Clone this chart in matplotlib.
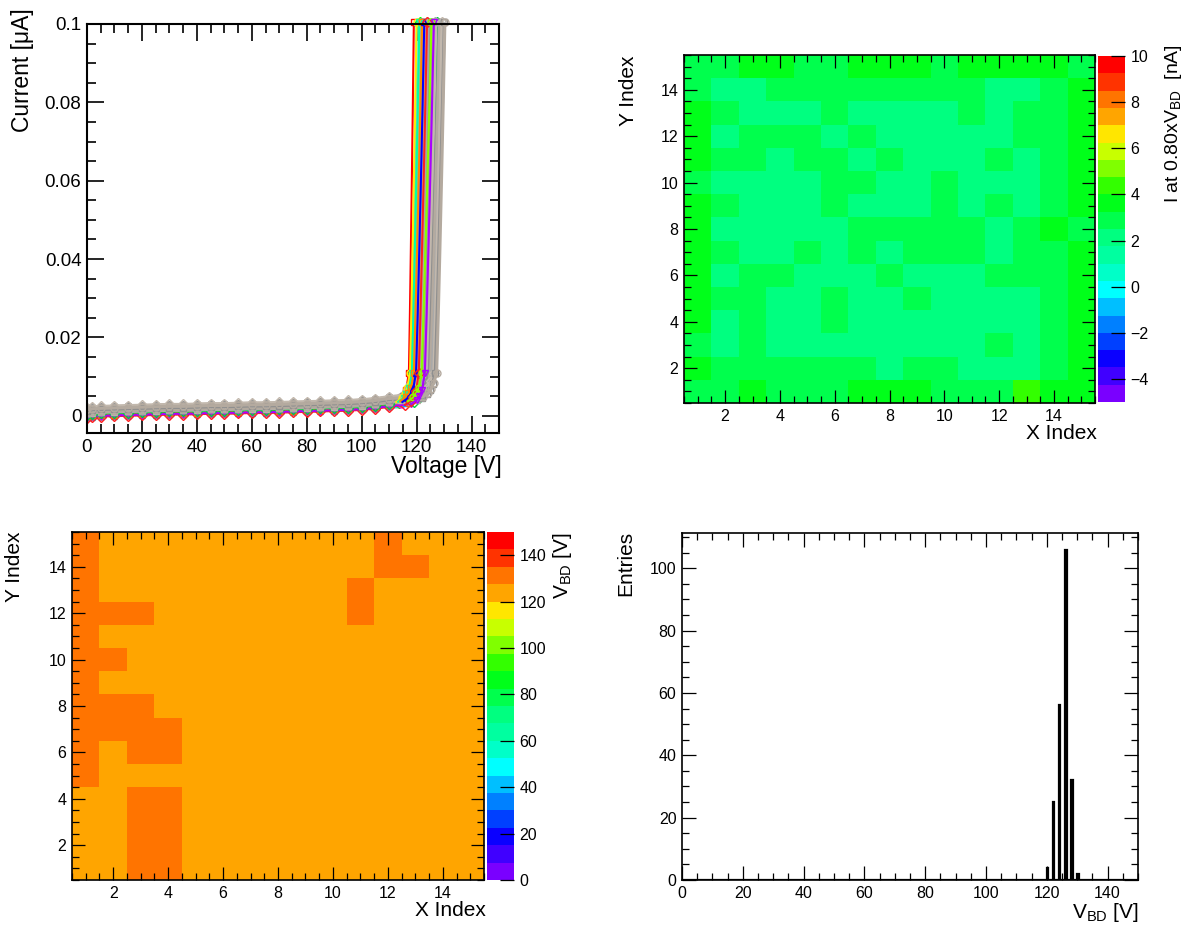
import numpy as np
import matplotlib
matplotlib.use("Agg")
import matplotlib.pyplot as plt
from matplotlib.colors import ListedColormap, BoundaryNorm
from matplotlib.ticker import MultipleLocator, FormatStrFormatter

plt.rcParams['font.family'] = ['Liberation Sans', 'DejaVu Sans']
plt.rcParams['mathtext.fontset'] = 'custom'
plt.rcParams['mathtext.rm'] = 'Liberation Sans'
plt.rcParams['mathtext.it'] = 'Liberation Sans:italic'

# ---------------- data ----------------
# IV sweep: common flat part (absolute volts) and breakdown rise (volts relative to knee)
flat_v = [0, 2, 5, 10, 15, 20, 25, 30, 35, 40, 45, 50, 55, 60, 65, 70, 75, 80, 85, 90, 95, 100, 105, 110]
flat_i = [0.0012, 0.0014, 0.0015, 0.0016, 0.0017, 0.0018, 0.0019, 0.0020, 0.0020, 0.0021, 0.0022, 0.0022,
          0.0023, 0.0024, 0.0024, 0.0025, 0.0026, 0.0027, 0.0028, 0.0029, 0.0030, 0.0032, 0.0035, 0.0040]
rise_dv = [-5.0, -3.0, -2.0, -1.0, 0.0, 0.6, 1.2, 1.8, 2.4, 3.0]
rise_i = [0.0045, 0.0055, 0.0065, 0.0080, 0.0110, 0.0260, 0.0430, 0.0610, 0.0800, 0.1005]

col_knee = [117.2, 117.6, 118.0, 118.3, 118.7, 119.0, 119.4, 119.8, 120.3, 120.8, 121.3, 121.8, 122.4, 123.0, 124.0]
col_shift = [-0.0014, -0.0010, -0.0016, -0.0009, -0.0012, -0.0008, -0.0015, -0.0010, -0.0011, -0.0017,
             -0.0012, -0.0008, -0.0013, -0.0015, -0.0009]
col_slope = [0.6, 0.8, 0.7, 0.9, 0.8, 1.0, 0.9, 1.0, 1.1, 1.0, 1.1, 1.2, 1.0, 1.1, 1.2]

gray_knee = [118.2, 118.9, 119.5, 120.1, 120.7, 121.2, 121.8, 122.3, 122.9, 123.4, 124.0, 124.6, 125.1,
             125.7, 126.3, 126.8, 127.3]
gray_shift = [-0.0004, 0.0004, -0.0006, 0.0006, 0.0000, -0.0005, 0.0008, 0.0002, -0.0003, 0.0005, -0.0001,
              0.0007, -0.0004, 0.0003, 0.0009, 0.0001, 0.0004]
gray_slope = [1.0, 1.1, 0.9, 1.2, 1.0, 1.1, 1.3, 1.0, 1.2, 1.1, 1.0, 1.2, 1.1, 1.3, 1.0, 1.1, 1.0]

# current at 0.80 x VBD [nA], rows from Y=15 (top) down to Y=1
i_grid = [
    [2.9, 2.9, 3.6, 3.6, 2.9, 2.9, 3.6, 3.6, 3.6, 2.9, 3.6, 3.6, 3.6, 3.6, 2.9],
    [2.9, 2.1, 2.1, 2.9, 2.9, 2.9, 2.9, 2.9, 2.9, 2.9, 2.9, 2.1, 2.1, 2.9, 3.6],
    [3.6, 2.9, 2.1, 2.1, 2.1, 2.9, 2.1, 2.1, 2.1, 2.1, 2.9, 2.1, 2.9, 2.9, 3.6],
    [3.6, 2.1, 2.9, 2.9, 2.9, 2.1, 2.9, 2.1, 2.1, 2.1, 2.1, 2.1, 2.9, 2.9, 3.6],
    [3.6, 2.9, 2.9, 2.1, 2.9, 2.9, 2.1, 2.9, 2.1, 2.1, 2.1, 2.9, 2.1, 2.9, 3.6],
    [2.9, 2.1, 2.1, 2.1, 2.1, 2.9, 2.9, 2.1, 2.1, 2.9, 2.1, 2.1, 2.1, 2.9, 3.6],
    [3.6, 2.9, 2.1, 2.1, 2.1, 2.9, 2.1, 2.1, 2.1, 2.9, 2.1, 2.9, 2.1, 2.9, 3.6],
    [3.6, 2.1, 2.1, 2.1, 2.1, 2.1, 2.9, 2.9, 2.9, 2.9, 2.9, 2.1, 2.9, 3.6, 2.9],
    [3.6, 2.9, 2.1, 2.1, 2.9, 2.1, 2.9, 2.1, 2.9, 2.9, 2.9, 2.1, 2.9, 2.9, 3.6],
    [3.6, 2.1, 2.9, 2.9, 2.1, 2.1, 2.1, 2.9, 2.1, 2.1, 2.1, 2.9, 2.9, 2.9, 3.6],
    [3.6, 2.9, 2.9, 2.1, 2.1, 2.9, 2.1, 2.1, 2.9, 2.1, 2.1, 2.1, 2.1, 2.9, 3.6],
    [3.6, 2.1, 2.9, 2.1, 2.1, 2.9, 2.1, 2.1, 2.1, 2.1, 2.1, 2.1, 2.1, 2.9, 3.6],
    [2.9, 2.1, 2.9, 2.1, 2.1, 2.1, 2.1, 2.1, 2.1, 2.1, 2.1, 2.9, 2.1, 2.9, 3.6],
    [3.6, 2.9, 2.9, 2.9, 2.9, 2.9, 2.9, 2.1, 2.9, 2.9, 2.1, 2.1, 2.1, 2.9, 3.6],
    [2.9, 2.9, 3.6, 2.9, 2.9, 2.9, 3.6, 3.6, 3.6, 2.9, 2.9, 2.9, 4.3, 3.6, 3.6],
]

# breakdown voltage [V], rows from Y=15 (top) down to Y=1
vbd_grid = [
    [128, 126, 126, 124, 122, 126, 124, 126, 126, 122, 126, 128, 124, 124, 126],
    [128, 126, 124, 126, 126, 122, 126, 124, 126, 126, 124, 128, 128, 126, 124],
    [128, 124, 126, 126, 124, 126, 122, 126, 126, 124, 128, 126, 124, 126, 122],
    [130, 128, 128, 126, 124, 126, 126, 122, 126, 124, 128, 126, 126, 124, 126],
    [128, 122, 124, 126, 126, 124, 126, 122, 126, 126, 124, 126, 120, 126, 124],
    [128, 128, 122, 126, 124, 126, 122, 126, 124, 126, 126, 124, 126, 122, 126],
    [128, 124, 126, 126, 122, 126, 124, 126, 126, 124, 126, 126, 124, 126, 122],
    [128, 128, 128, 126, 124, 126, 126, 124, 126, 122, 126, 124, 126, 126, 124],
    [130, 128, 128, 128, 126, 124, 126, 122, 126, 124, 126, 126, 124, 126, 120],
    [128, 124, 128, 128, 126, 126, 124, 126, 122, 126, 124, 126, 126, 124, 126],
    [128, 126, 124, 126, 122, 126, 126, 124, 126, 124, 126, 122, 126, 124, 126],
    [126, 124, 128, 128, 126, 126, 122, 124, 126, 126, 124, 126, 122, 126, 124],
    [124, 126, 128, 128, 124, 126, 126, 122, 126, 124, 126, 120, 126, 124, 126],
    [126, 122, 128, 128, 126, 124, 126, 126, 124, 126, 122, 126, 124, 126, 124],
    [122, 126, 128, 128, 124, 126, 126, 124, 126, 120, 126, 124, 126, 122, 126],
]

# ---------------- style ----------------
palette = ['#7a00ff', '#4000ff', '#0a00ff', '#0040ff', '#0080ff', '#00bfff', '#00ffff', '#00ffc8',
           '#00ffa0', '#00ff80', '#00ff4d', '#00ff1a', '#33ff00', '#80ff00', '#c8ff00', '#ffe600',
           '#ffa500', '#ff7400', '#ff3300', '#ff0000']
cmap = ListedColormap(palette)
col_color = ['#ff0000', '#ffee00', '#00e5ff', '#00ffaa', '#00ff00', '#ff8800', '#ff00ff', '#0000ff',
             '#8800ff', '#ff2020', '#00aaff', '#88ff00', '#ff6600', '#aa00ff', '#00cc44']
gray_color = ['#b4aa9f', '#a9a9a9', '#c2b8ad', '#8f8f8f']
markers = ['s', 'o', '^', 'v', 'D']

W, H = 1188, 925
fig = plt.figure(figsize=(W / 100, H / 100), dpi=100)


def px_rect(l, t, r, b):
    return [l / W, 1 - b / H, (r - l) / W, (b - t) / H]


def root_ticks(ax, lab, major_len, minor_len, width):
    ax.tick_params(which='both', direction='in', top=True, right=True, labelsize=lab, pad=4, width=width)
    ax.tick_params(which='major', length=major_len)
    ax.tick_params(which='minor', length=minor_len)
    for s in ax.spines.values():
        s.set_linewidth(width + 0.3)


def curve(knee, shift, slope):
    v = [x for x in flat_v if x < knee - 5.5] + [knee + d * (slope if d > 0 else 1) for d in rise_dv]
    i = [y + shift for x, y in zip(flat_v, flat_i) if x < knee - 5.5] + \
        [y + (shift if y < 0.01 else 0) for y in rise_i]
    return v, i


def draw_iv(ax, v, i, color, lw, mk, z_flat, z_rise):
    n = len(v) - len(rise_dv) + 1
    ax.plot(v[:n], i[:n], color=color, lw=lw, zorder=z_flat,
            marker=mk, ms=5, mfc='none', mew=1.0)
    ax.plot(v[n - 1:], i[n - 1:], color=color, lw=lw, solid_joinstyle='round', zorder=z_rise)
    mv = [a for a, b in zip(v[n:], i[n:]) if b < 0.012]
    mi = [b for b in i[n:] if b < 0.012]
    ax.plot(mv, mi, ls='none', color=color, marker=mk, ms=5, mfc='none', mew=1.0, zorder=z_rise)
    ax.plot(v[-1:], i[-1:], ls='none', color=color, marker=mk, ms=5, mfc='none', mew=1.0,
            clip_on=False, zorder=z_rise)


# ---------------- IV curves ----------------
ax1 = fig.add_axes(px_rect(87, 24, 499, 433))
for k in range(len(col_knee)):
    v, i = curve(col_knee[k], col_shift[k], col_slope[k])
    draw_iv(ax1, v, i, col_color[k], 1.5, markers[k % 5], 1.8, 2.2 if k % 2 else 1.8)
for k in range(len(gray_knee)):
    v, i = curve(gray_knee[k], gray_shift[k], gray_slope[k])
    draw_iv(ax1, v, i, gray_color[k % 4], 2.2, markers[k % 5], 2.0, 2.0)
ax1.set_xlim(0, 150)
ax1.set_ylim(-0.0044, 0.1)
ax1.xaxis.set_major_locator(MultipleLocator(20))
ax1.xaxis.set_minor_locator(MultipleLocator(5))
ax1.yaxis.set_major_locator(MultipleLocator(0.02))
ax1.yaxis.set_minor_locator(MultipleLocator(0.005))
ax1.yaxis.set_major_formatter(FormatStrFormatter('%g'))
root_ticks(ax1, 13.5, 12, 6.5, 1.2)
fig.text(502 / W, 1 - 455 / H, 'Voltage [V]', ha='right', va='top', fontsize=16.5)
fig.text(22 / W, 1 - 8 / H, 'Current [μA]', ha='center', va='top', rotation=90, fontsize=16.5)

edges = np.arange(0.5, 16, 1.0)


def heat_axes(ax):
    ax.set_xlim(0.5, 15.5)
    ax.set_ylim(0.5, 15.5)
    for a in (ax.xaxis, ax.yaxis):
        a.set_major_locator(MultipleLocator(2))
        a.set_minor_locator(MultipleLocator(0.5))
    root_ticks(ax, 11.5, 9.5, 5, 0.9)


# ---------------- current map ----------------
ax2 = fig.add_axes(px_rect(684, 55, 1095, 403))
norm_i = BoundaryNorm(np.linspace(-5, 10, 21), cmap.N)
m2 = ax2.pcolormesh(edges, edges, np.array(i_grid)[::-1], cmap=cmap, norm=norm_i)
heat_axes(ax2)
cax2 = fig.add_axes(px_rect(1098, 56, 1125, 402))
cb2 = fig.colorbar(m2, cax=cax2, ticks=np.arange(-4, 11, 2))
cb2.outline.set_visible(False)
cax2.tick_params(direction='in', length=10, width=0.9, labelsize=11.5, pad=4)
cax2.minorticks_off()
fig.text(1097 / W, 1 - 424 / H, 'X Index', ha='right', va='top', fontsize=15)
fig.text(628 / W, 1 - 55 / H, 'Y Index', ha='center', va='top', rotation=90, fontsize=15)
fig.text(1173 / W, 1 - 44 / H, 'I at 0.80xV$_{\\mathrm{BD}}$  [nA]', ha='center', va='top',
         rotation=90, fontsize=14)

# ---------------- VBD map ----------------
ax3 = fig.add_axes(px_rect(72, 532, 484, 880))
norm_v = BoundaryNorm(np.linspace(0, 150, 21), cmap.N)
m3 = ax3.pcolormesh(edges, edges, np.array(vbd_grid)[::-1], cmap=cmap, norm=norm_v)
heat_axes(ax3)
cax3 = fig.add_axes(px_rect(487, 532, 514, 880))
cb3 = fig.colorbar(m3, cax=cax3, ticks=np.arange(0, 141, 20))
cb3.outline.set_visible(False)
cax3.tick_params(direction='in', length=10, width=0.9, labelsize=11.5, pad=4)
cax3.minorticks_off()
fig.text(486 / W, 1 - 901 / H, 'X Index', ha='right', va='top', fontsize=15)
fig.text(15 / W, 1 - 531 / H, 'Y Index', ha='center', va='top', rotation=90, fontsize=15)
fig.text(563 / W, 1 - 532 / H, 'V$_{\\mathrm{BD}}$ [V]', ha='center', va='top', rotation=90, fontsize=15)

# ---------------- VBD histogram ----------------
ax4 = fig.add_axes(px_rect(682, 533, 1138, 880))
ax4.hist(np.ravel(vbd_grid), bins=np.arange(0, 150.5, 0.5), histtype='step', color='black', lw=1.6)
ax4.set_xlim(0, 150)
ax4.set_ylim(0, 111.3)
ax4.xaxis.set_major_locator(MultipleLocator(20))
ax4.xaxis.set_minor_locator(MultipleLocator(5))
ax4.yaxis.set_major_locator(MultipleLocator(20))
ax4.yaxis.set_minor_locator(MultipleLocator(5))
root_ticks(ax4, 11.5, 10, 5, 0.9)
fig.text(1139 / W, 1 - 901 / H, 'V$_{\\mathrm{BD}}$ [V]', ha='right', va='top', fontsize=15)
fig.text(626 / W, 1 - 531 / H, 'Entries', ha='center', va='top', rotation=90, fontsize=15)

fig.savefig('out.png', dpi=100)
